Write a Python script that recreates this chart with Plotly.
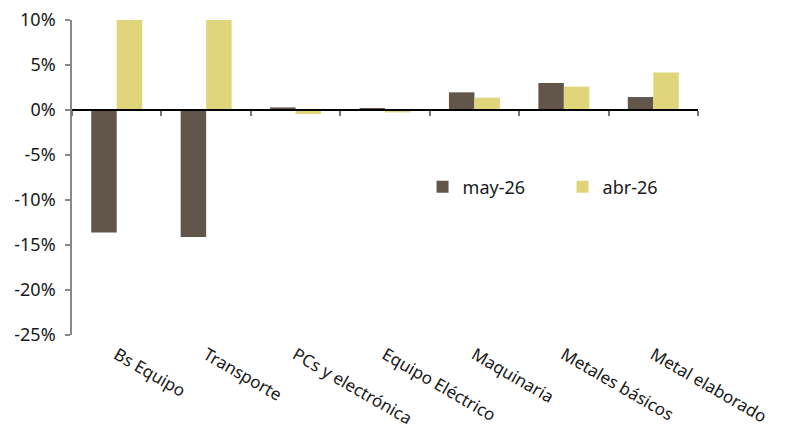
import plotly.graph_objects as go

categories = ["Bs Equipo", "Transporte", "PCs y electrónica", "Equipo Eléctrico",
              "Maquinaria", "Metales básicos", "Metal elaborado"]
may_26 = [-13.6, -14.1, 0.29, 0.22, 1.96, 3.0, 1.44]
abr_26 = [10.0, 10.0, -0.44, -0.27, 1.37, 2.6, 4.18]
y_tickvals = [-25, -20, -15, -10, -5, 0, 5, 10]
y_ticktext = ["-25%", "-20%", "-15%", "-10%", "-5%", "0%", "5%", "10%"]

FONT = "Noto Sans"
idx = list(range(len(categories)))

fig = go.Figure()
fig.add_trace(go.Bar(x=idx, y=may_26, name="may-26", marker_color="#62564a",
                     marker_line_width=0))
fig.add_trace(go.Bar(x=idx, y=abr_26, name="abr-26", marker_color="#e0d57a",
                     marker_line_width=0))

y_min, y_max = -25, 10
zero_pos = (0 - y_min) / (y_max - y_min)

fig.update_layout(
    width=789, height=428,
    margin=dict(l=72, r=91, t=20, b=93, autoexpand=False),
    paper_bgcolor="white", plot_bgcolor="white",
    barmode="group", bargap=0.43, bargroupgap=0,
    font=dict(family=FONT, size=18, color="#1a1a1a"),
    showlegend=True,
    legend=dict(orientation="h", x=0.56, y=0.47, xanchor="left", yanchor="middle",
                font=dict(size=18), entrywidth=95, itemwidth=30,
                bgcolor="rgba(0,0,0,0)"),
    # axis line through zero with boundary ticks
    xaxis=dict(range=[-0.5, len(categories) - 0.5], anchor="free", position=zero_pos,
               showline=True, linecolor="#000000", linewidth=1.5,
               ticks="outside", ticklen=5, tickcolor="#777777", tickwidth=1.5,
               tickvals=[i - 0.5 for i in range(len(categories) + 1)],
               showticklabels=False, showgrid=False, zeroline=False, automargin=False),
    # category labels along the bottom of the plot
    xaxis2=dict(range=[-0.5, len(categories) - 0.5], overlaying="x", anchor="y",
                side="bottom", showline=False, ticks="", showgrid=False, zeroline=False,
                tickvals=idx, ticktext=categories, tickangle=30,
                tickfont=dict(size=17), ticklabelstandoff=6, automargin=False),
    yaxis=dict(range=[y_min, y_max], tickvals=y_tickvals, ticktext=y_ticktext,
               showline=True, linecolor="#888888", linewidth=1.5,
               ticks="outside", ticklen=5, tickcolor="#888888", tickwidth=1.5,
               showgrid=False, zeroline=False, ticklabelstandoff=6, automargin=False),
)

# invisible trace so the label axis is rendered
fig.add_trace(go.Scatter(x=idx, y=[0] * len(idx), xaxis="x2", mode="markers",
                         marker=dict(opacity=0), showlegend=False, hoverinfo="skip"))

fig.write_html("out.html")
